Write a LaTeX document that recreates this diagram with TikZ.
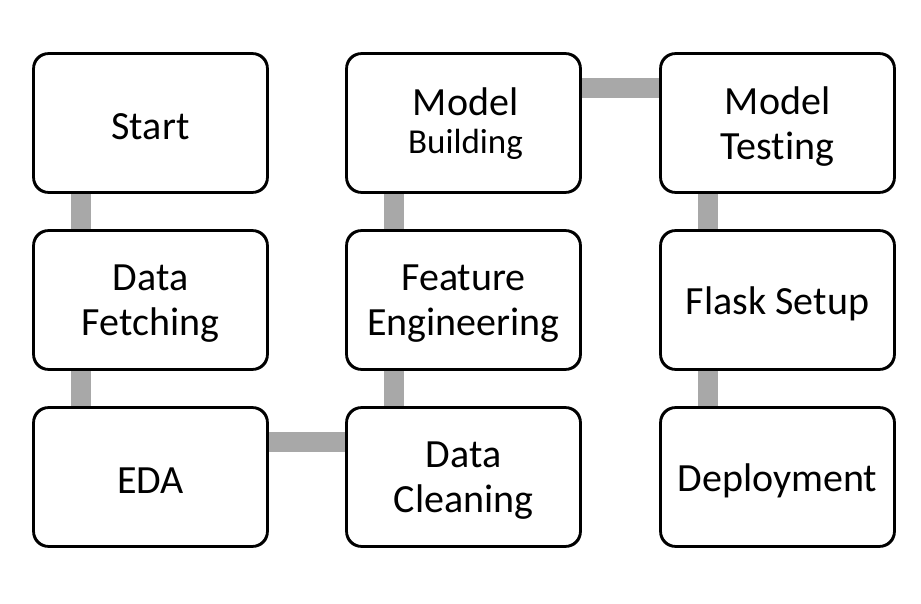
\documentclass[tikz,border=0pt]{standalone}
\usepackage{fontspec}
\setmainfont[Ligatures={NoCommon,NoRare}]{Carlito}
\begin{document}
\begin{tikzpicture}[x=1pt,y=1pt,
  stepbox/.style={draw=black,line width=1.8pt,rounded corners=15pt,fill=white,
    minimum width=233pt,minimum height=138pt,inner sep=0pt},
  lbl/.style={align=center,inner sep=0pt,font=\fontsize{40}{45}\selectfont},
  bar/.style={draw=black!34,line width=20pt}]
\useasboundingbox (0,0) rectangle (921,-604);
\fill[white] (0,0) rectangle (921,-604);
% boxes
\node[stepbox] (start) at (150.5,-123) {};
\node[stepbox] (fetch) at (150.5,-300) {};
\node[stepbox] (eda)   at (150.5,-477) {};
\node[stepbox] (clean) at (463.5,-477) {};
\node[stepbox] (feat)  at (463.5,-300) {};
\node[stepbox] (build) at (463.5,-123) {};
\node[stepbox] (test)  at (777.5,-123) {};
\node[stepbox] (flask) at (777.5,-300) {};
\node[stepbox] (deploy) at (777.5,-477) {};
% connectors
\draw[bar] ([xshift=47.5pt,yshift=1pt]start.south west) -- ([xshift=47.5pt,yshift=-1pt]fetch.north west);
\draw[bar] ([xshift=47.5pt,yshift=1pt]fetch.south west) -- ([xshift=47.5pt,yshift=-1pt]eda.north west);
\draw[bar] ([xshift=-1pt,yshift=-34.5pt]eda.north east) -- ([xshift=1pt,yshift=-34.5pt]clean.north west);
\draw[bar] ([xshift=47.5pt,yshift=-1pt]clean.north west) -- ([xshift=47.5pt,yshift=1pt]feat.south west);
\draw[bar] ([xshift=47.5pt,yshift=-1pt]feat.north west) -- ([xshift=47.5pt,yshift=1pt]build.south west);
\draw[bar] ([xshift=-1pt,yshift=-34.5pt]build.north east) -- ([xshift=1pt,yshift=-34.5pt]test.north west);
\draw[bar] ([xshift=47.5pt,yshift=1pt]test.south west) -- ([xshift=47.5pt,yshift=-1pt]flask.north west);
\draw[bar] ([xshift=47.5pt,yshift=1pt]flask.south west) -- ([xshift=47.5pt,yshift=-1pt]deploy.north west);
% borders on top of bars
\foreach \n in {start,fetch,eda,clean,feat,build,test,flask,deploy}
  \draw[line width=1.8pt,rounded corners=15pt] (\n.south west) rectangle (\n.north east);
% labels
\node[lbl] (tstart) at ([yshift=-3.5pt]start.center) {Start};
\node[lbl] (tfetch) at ([yshift=-3.5pt]fetch.center) {Data\\Fetching};
\node[lbl] (teda) at ([yshift=-3.5pt]eda.center) {EDA};
\node[lbl] (tclean) at ([yshift=-3.5pt]clean.center) {Data\\Cleaning};
\node[lbl] (tfeat) at ([yshift=-3.5pt]feat.center) {Feature\\Engineering};
\node[lbl] (tbuild) at ([xshift=2pt,yshift=-1pt]build.center) {Model\\[-7pt]{\fontsize{35}{39}\selectfont Building}};
\node[lbl] (ttest) at ([yshift=-3.5pt]test.center) {Model\\Testing};
\node[lbl] (tflask) at ([yshift=-3.5pt]flask.center) {Flask Setup};
\node[lbl] (tdeploy) at ([yshift=-3.5pt]deploy.center) {Deployment};
\end{tikzpicture}
\end{document}
